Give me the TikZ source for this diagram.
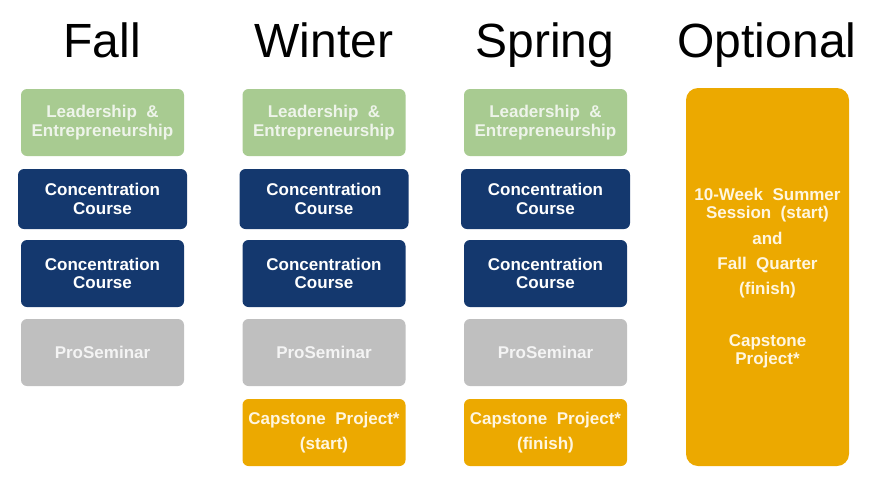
\documentclass[tikz,border=0pt]{standalone}
\usepackage{fontspec}
\setmainfont{Liberation Sans}
\definecolor{lgreen}{HTML}{A8CB91}
\definecolor{dblue}{HTML}{14386E}
\definecolor{lgray}{HTML}{BFBFBF}
\definecolor{gold}{HTML}{ECA900}
\definecolor{gtext}{HTML}{EEF4EA}
\definecolor{ptext}{HTML}{F4F4F4}
\definecolor{otext}{HTML}{FFF6E0}
\tikzset{
  x=1pt,y=-1pt,
  title/.style={anchor=base,font=\fontsize{48}{50}\selectfont,text=black,inner sep=0},
  cbox/.style={rounded corners=6pt,inner sep=0,align=center,
    font=\fontsize{17}{18.5}\selectfont\bfseries,minimum width=163pt,minimum height=67pt},
  leadbox/.style={cbox,fill=lgreen,text=gtext},
  concbox/.style={cbox,fill=dblue,text=white},
  wideconc/.style={concbox,minimum width=169pt,minimum height=60pt},
  probox/.style={cbox,fill=lgray,text=ptext},
  capbox/.style={cbox,fill=gold,text=otext},
  optbox/.style={cbox,fill=gold,text=otext,rounded corners=12pt,minimum height=378pt}
}
\begin{document}
\begin{tikzpicture}
\useasboundingbox (0,0) rectangle (871,483);
% titles
\node[title] (tfall) at (102,57) {Fall};
\node[title] (twin) at (324,57) {Winter};
\node[title] (tspr) at (545,57) {Spring};
\node[title] (topt) at (767,57) {Optional};
% Fall
\node[leadbox] (f1) at (102.5,122.5) {Leadership\ \ \&\\Entrepreneurship};
\node[wideconc] (f2) at (102.5,199) {Concentration\\Course};
\node[concbox] (f3) at (102.5,273.5) {Concentration\\Course};
\node[probox] (f4) at (102.5,352.5) {ProSeminar};
% Winter
\node[leadbox] (w1) at (324,122.5) {Leadership\ \ \&\\Entrepreneurship};
\node[wideconc] (w2) at (324,199) {Concentration\\Course};
\node[concbox] (w3) at (324,273.5) {Concentration\\Course};
\node[probox] (w4) at (324,352.5) {ProSeminar};
\node[capbox] (w5) at (324,432.5) {Capstone\ \ Project*\\[6pt](start)};
% Spring
\node[leadbox] (s1) at (545.5,122.5) {Leadership\ \ \&\\Entrepreneurship};
\node[wideconc] (s2) at (545.5,199) {Concentration\\Course};
\node[concbox] (s3) at (545.5,273.5) {Concentration\\Course};
\node[probox] (s4) at (545.5,352.5) {ProSeminar};
\node[capbox] (s5) at (545.5,432.5) {Capstone\ \ Project*\\[6pt](finish)};
% Optional
\node[optbox] (o1) at (767.5,277) {};
\node[inner sep=0,align=center,text=otext,font=\fontsize{17}{18.5}\selectfont\bfseries,anchor=north]
  (otxt) at (767.5,187.5) {10-Week\ \ Summer\\Session\ \ (start)\\[7pt]and\\[7pt]Fall\ \ Quarter\\[6.5pt](finish)\\[33pt]Capstone\\Project*};
\end{tikzpicture}
\end{document}
